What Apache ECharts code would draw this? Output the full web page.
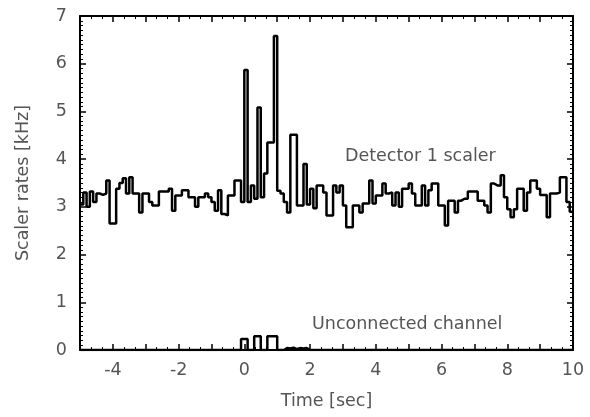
<!DOCTYPE html>
<html>
<head>
<meta charset="utf-8">
<script src="https://cdn.jsdelivr.net/npm/echarts@6/dist/echarts.min.js"></script>
<style>
html,body{margin:0;padding:0;background:#fff;}
#chart{width:590px;height:417px;}
</style>
</head>
<body>
<div id="chart"></div>
<script>
// bins of 0.1 s starting at -5 s
var binStart = -5;
var binWidth = 0.1;
var detector1 = [
  3.05, 3.3, 3.0, 3.32, 3.1, 3.28, 3.25, 3.28, 3.55, 2.65,
  2.65, 3.38, 3.5, 3.6, 3.28, 3.62, 3.28, 3.28, 2.88, 3.28,
  3.28, 3.1, 3.03, 3.03, 3.32, 3.32, 3.32, 3.38, 2.92, 3.24,
  3.24, 3.35, 3.35, 3.2, 3.2, 3.0, 3.2, 3.2, 3.28, 3.2,
  3.1, 2.92, 3.35, 2.85, 2.82, 3.24, 3.24, 3.55, 3.55, 3.1,
  5.87, 3.1, 3.45, 3.17, 5.08, 3.2, 3.7, 4.35, 4.35, 6.58,
  3.34, 3.28, 3.1, 2.88, 4.51, 4.51, 3.03, 3.03, 3.9, 3.05,
  3.38, 2.97, 3.45, 3.45, 3.3, 2.82, 2.82, 3.45, 3.3, 3.45,
  3.03, 2.57, 2.57, 3.03, 3.03, 2.88, 3.07, 3.07, 3.55, 3.07,
  3.24, 3.24, 3.49, 3.28, 3.3, 3.03, 3.3, 3.0, 3.38, 3.38,
  3.49, 3.28, 3.03, 3.03, 3.45, 3.03, 3.35, 3.49, 3.49, 3.03,
  3.03, 2.61, 3.13, 3.13, 2.88, 3.13, 3.17, 3.17, 3.32, 3.32,
  3.32, 3.13, 3.13, 3.03, 2.88, 3.49, 3.45, 3.45, 3.66, 3.2,
  2.95, 2.78, 2.95, 3.38, 3.38, 2.92, 3.3, 3.55, 3.55, 3.38,
  3.25, 3.25, 2.78, 3.28, 3.28, 3.3, 3.62, 3.62, 3.1, 2.9
];
var unconnected = [
  0,0,0,0,0,0,0,0,0,0,
  0,0,0,0,0,0,0,0,0,0,
  0,0,0,0,0,0,0,0,0,0,
  0,0,0,0,0,0,0,0,0,0,
  0,0,0,0,0,0,0,0,0,0.23,
  0.23,0,0,0.29,0.29,0,0,0.29,0.29,0.29,
  0,0,0.04,0.03,0.05,0.02,0.04,0.03,0.04,0,
  0,0,0,0,0,0,0,0,0,0,
  0,0,0,0,0,0,0,0,0,0,
  0,0,0,0,0,0,0,0,0,0,
  0,0,0,0,0,0,0,0,0,0,
  0,0,0,0,0,0,0,0,0,0,
  0,0,0,0,0,0,0,0,0,0,
  0,0,0,0,0,0,0,0,0,0,
  0,0,0,0,0,0,0,0,0,0
];
var xTickLabels = [-4, -2, 0, 2, 4, 6, 8, 10];
var yTickLabels = [0, 1, 2, 3, 4, 5, 6, 7];
var annotations = [
  {text: 'Detector 1 scaler', x: 3.06, y: 4.05},
  {text: 'Unconnected channel', x: 2.06, y: 0.53}
];

function stepData(vals) {
  var out = [];
  for (var i = 0; i < vals.length; i++) {
    out.push([+(binStart + i * binWidth).toFixed(2), vals[i]]);
  }
  out.push([+(binStart + vals.length * binWidth).toFixed(2), vals[vals.length - 1]]);
  return out;
}

var FONT = '"DejaVu Sans", Verdana, sans-serif';
var TXT = '#555';
var FS = 17.5;
var chart = echarts.init(document.getElementById('chart'), null, {renderer: 'canvas'});

function xAxisCfg(pos, labels) {
  return {
    type: 'value', position: pos, min: -5, max: 10, interval: 1,
    axisLine: {show: true, onZero: false, lineStyle: {color: '#000', width: 2}},
    axisTick: {show: true, inside: true, length: 6, lineStyle: {color: '#000', width: 1.5}},
    minorTick: {show: true, splitNumber: 3, length: 3, lineStyle: {color: '#000', width: 1}},
    axisLabel: {show: labels, color: TXT, fontFamily: FONT, fontSize: FS, margin: 11,
      formatter: function (v) { return xTickLabels.indexOf(v) >= 0 ? String(v) : ''; }},
    splitLine: {show: false},
    name: labels ? 'Time [sec]' : '', nameLocation: 'middle', nameGap: 42,
    nameTextStyle: {color: TXT, fontFamily: FONT, fontSize: FS}
  };
}
function yAxisCfg(pos, labels) {
  return {
    type: 'value', position: pos, min: 0, max: 7, interval: 1,
    axisLine: {show: true, onZero: false, lineStyle: {color: '#000', width: 2}},
    axisTick: {show: true, inside: true, length: 6, lineStyle: {color: '#000', width: 1.5}},
    minorTick: {show: true, splitNumber: 10, length: 3, lineStyle: {color: '#000', width: 1}},
    axisLabel: {show: labels, color: TXT, fontFamily: FONT, fontSize: FS, margin: 13,
      formatter: function (v) { return yTickLabels.indexOf(v) >= 0 ? String(v) : ''; }},
    splitLine: {show: false},
    name: labels ? 'Scaler rates [kHz]' : '', nameLocation: 'middle', nameGap: 48,
    nameTextStyle: {color: TXT, fontFamily: FONT, fontSize: FS}
  };
}

chart.setOption({
  animation: false,
  backgroundColor: '#fff',
  grid: {left: 80, right: 17, top: 16, bottom: 67},
  xAxis: [xAxisCfg('bottom', true), xAxisCfg('top', false)],
  yAxis: [yAxisCfg('left', true), yAxisCfg('right', false)],
  series: [
    {type: 'line', step: 'end', data: stepData(detector1), showSymbol: false, symbol: 'none',
     lineStyle: {color: '#000', width: 2.5}, z: 3},
    {type: 'line', step: 'end', data: stepData(unconnected), showSymbol: false, symbol: 'none',
     lineStyle: {color: '#000', width: 2.5}, z: 3}
  ]
});

var g = annotations.map(function (a) {
  var p = chart.convertToPixel({xAxisIndex: 0, yAxisIndex: 0}, [a.x, a.y]);
  return {type: 'text', x: p[0], y: p[1],
    style: {text: a.text, fill: TXT, font: FS + 'px ' + FONT, verticalAlign: 'middle'}};
});
chart.setOption({graphic: g});
</script>
</body>
</html>
